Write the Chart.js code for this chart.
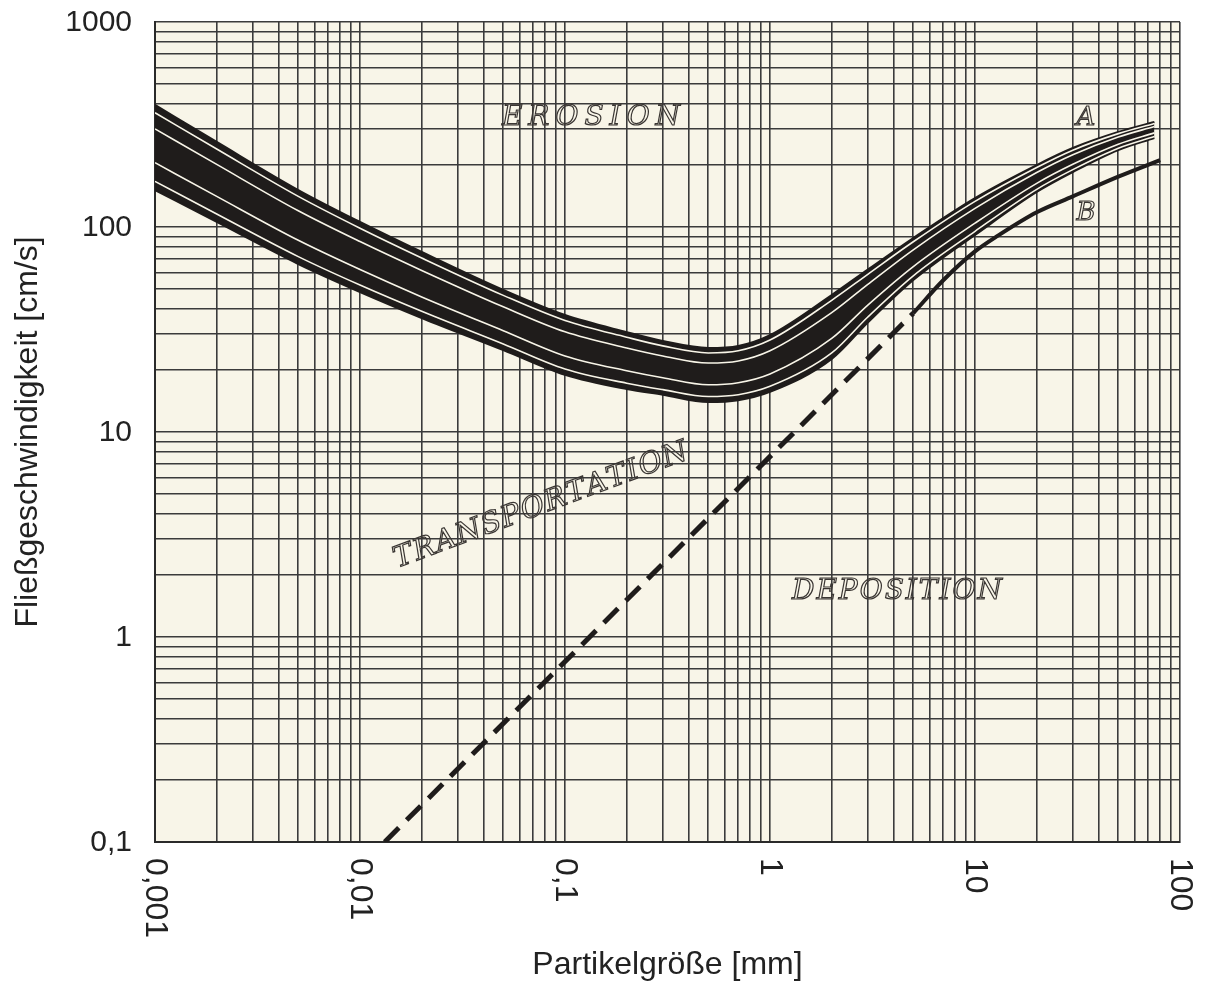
<!DOCTYPE html>
<html>
<head>
<meta charset="utf-8">
<script src="https://cdn.jsdelivr.net/npm/chart.js@4/dist/chart.umd.min.js"></script>
<style>
  body { margin: 0; background: #ffffff; }
  #box { width: 1208px; height: 982px; }
</style>
</head>
<body>
<div id="box"><canvas id="grafico"></canvas></div>
<script>
// Korngröße in mm (x) und Fließgeschwindigkeit in cm/s (y)
const korngroesse = [0.001, 0.002, 0.005, 0.01, 0.02, 0.05, 0.1, 0.2, 0.3, 0.5, 0.7, 1, 2, 3, 5, 10, 20, 30, 50, 75];
const erosionOben = [394, 260, 151.5, 105.8, 75.5, 49.3, 37.2, 30.7, 27.8, 25.7, 26.3, 29.7, 46.6, 62.0, 88.4, 138.5, 200.6, 242.8, 290.6, 325.2];
const erosionLinie1 = [361, 240, 141, 98.6, 70.6, 46.4, 35.0, 29.0, 26.3, 24.3, 24.9, 28.1, 43.9, 58.8, 84.7, 133.4, 195.2, 237.1, 285.4, 320.0];
const erosionLinie2 = [301, 202, 120, 84.9, 61.4, 40.8, 30.8, 25.7, 23.5, 21.7, 22.2, 24.9, 38.2, 52.5, 77.4, 123.3, 184.3, 225.2, 274.7, 309.3];
const erosionLinie3 = [206, 141, 86.1, 62.0, 45.6, 31.2, 23.5, 19.9, 18.4, 17.0, 17.4, 19.2, 28.6, 41.6, 64.1, 104.4, 163.3, 202.2, 253.3, 287.8];
const erosionLinie4 = [167, 115.7, 71.7, 52.1, 38.8, 26.9, 20.3, 17.3, 16.1, 14.9, 15.2, 16.7, 24.3, 36.4, 57.8, 95.3, 152.7, 190.5, 242.3, 276.6];
const erosionUnten = [151.5, 105.8, 66.0, 48.2, 36.0, 25.1, 19.0, 16.2, 15.2, 14.0, 14.3, 15.7, 22.7, 34.2, 55.1, 91.4, 148.2, 185.5, 237.5, 271.8];

// Sedimentationskurve (gestrichelt) und Kurve B
const depositionX = [0.0132, 5];
const depositionV = [0.1, 38];
const kurveBX = [5, 7, 10, 13, 20, 30, 50, 80];
const kurveBV = [38, 55, 76, 91, 118, 141, 176, 212];

// Achsenbeschriftungen
const xTickWerte = [0.001, 0.01, 0.1, 1, 10, 100];
const xTickTexte = ['0,001', '0,01', '0,1', '1', '10', '100'];
const yTickWerte = [0.1, 1, 10, 100, 1000];
const yTickTexte = ['0,1', '1', '10', '100', '1000'];

const papier = '#f8f5e8';
const tinte = '#1f1c1b';
const schrift = '"Liberation Sans", Arial, sans-serif';

function punkte(xs, ys) {
    return xs.map((x, i) => ({ x: x, y: ys[i] }));
}

// Gitterlinien 1..9 pro Dekade
function logTicks(min, max) {
    const ticks = [];
    for (let e = Math.round(Math.log10(min)); e < Math.round(Math.log10(max)); e++) {
        for (let k = 1; k < 10; k++) {
            ticks.push({ value: Number((k * Math.pow(10, e)).toPrecision(6)) });
        }
    }
    ticks.push({ value: max });
    return ticks;
}

function linie(daten, farbe, breite, reihenfolge) {
    return {
        data: daten,
        borderColor: farbe,
        borderWidth: breite,
        pointRadius: 0,
        fill: false,
        cubicInterpolationMode: 'monotone',
        order: reihenfolge
    };
}

const papierPlugin = {
    id: 'papier',
    beforeDraw(chart) {
        const { ctx, chartArea } = chart;
        ctx.save();
        ctx.fillStyle = papier;
        ctx.fillRect(chartArea.left, chartArea.top, chartArea.right - chartArea.left, chartArea.bottom - chartArea.top);
        ctx.restore();
    }
};

function gesperrt(ctx, text, x, y, abstand) {
    // Text mit Buchstabenabstand, zentriert um x
    let breite = 0;
    const b = [];
    for (const ch of text) { const w = ctx.measureText(ch).width; b.push(w); breite += w; }
    breite += abstand * (text.length - 1);
    let px = x - breite / 2;
    let i = 0;
    for (const ch of text) {
        ctx.strokeText(ch, px, y);
        px += b[i++] + abstand;
    }
}

const beschriftungPlugin = {
    id: 'beschriftung',
    afterDraw(chart) {
        const ctx = chart.ctx;
        const xs = chart.scales.x;
        const ys = chart.scales.y;
        const unten = chart.chartArea.bottom;
        const links = chart.chartArea.left;

        ctx.save();
        ctx.fillStyle = '#222';

        // y-Achsenbeschriftung
        ctx.font = '30px ' + schrift;
        ctx.textAlign = 'right';
        ctx.textBaseline = 'middle';
        yTickWerte.forEach((w, i) => {
            ctx.fillText(yTickTexte[i], links - 23, ys.getPixelForValue(w) + 1);
        });

        // x-Achsenbeschriftung, im Uhrzeigersinn gedreht
        ctx.font = '32px ' + schrift;
        ctx.textAlign = 'left';
        xTickWerte.forEach((w, i) => {
            ctx.save();
            ctx.translate(xs.getPixelForValue(w), unten + 16);
            ctx.rotate(Math.PI / 2);
            ctx.fillText(xTickTexte[i], 0, 0);
            ctx.restore();
        });
        ctx.restore();

        // Bereichsnamen im Diagramm
        ctx.save();
        ctx.strokeStyle = '#3a3633';
        ctx.lineWidth = 1.2;
        ctx.textAlign = 'left';
        ctx.textBaseline = 'middle';
        ctx.font = 'italic 28px "DejaVu Serif", serif';
        gesperrt(ctx, 'EROSION', 591, 118, 6);
        gesperrt(ctx, 'DEPOSITION', 897, 592, 2);
        ctx.font = 'italic 26px "DejaVu Serif", serif';
        gesperrt(ctx, 'A', 1086, 118, 0);
        gesperrt(ctx, 'B', 1086, 213, 0);
        ctx.save();
        ctx.translate(541, 506);
        ctx.rotate(-20.5 * Math.PI / 180);
        ctx.font = 'italic 29px "DejaVu Serif", serif';
        gesperrt(ctx, 'TRANSPORTATION', 0, 0, 1.5);
        ctx.restore();
        ctx.restore();
    }
};

const ctx = document.getElementById('grafico').getContext('2d');
new Chart(ctx, {
    type: 'line',
    data: {
        datasets: [
            Object.assign(linie(punkte(korngroesse, erosionOben), tinte, 2, 10), { fill: '+1', backgroundColor: tinte }),
            linie(punkte(korngroesse, erosionUnten), tinte, 2, 9),
            linie(punkte(korngroesse, erosionLinie1), papier, 1.6, 2),
            linie(punkte(korngroesse, erosionLinie2), papier, 1.6, 2),
            linie(punkte(korngroesse, erosionLinie3), papier, 1.6, 2),
            linie(punkte(korngroesse, erosionLinie4), papier, 1.6, 2),
            Object.assign(linie(punkte(depositionX, depositionV), tinte, 5, 1), { borderDash: [20, 11] }),
            linie(punkte(kurveBX, kurveBV), tinte, 4, 1)
        ]
    },
    options: {
        responsive: true,
        maintainAspectRatio: false,
        animation: false,
        layout: { padding: { top: 22, right: 28, left: 0, bottom: 0 } },
        plugins: {
            legend: { display: false },
            tooltip: { enabled: false }
        },
        scales: {
            x: {
                type: 'logarithmic',
                min: 0.001,
                max: 100,
                afterBuildTicks: s => { s.ticks = logTicks(0.001, 100); },
                afterFit: s => { s.height = 140; },
                ticks: { display: false, autoSkip: false },
                grid: { color: '#3b3b3b', lineWidth: 1.6, drawTicks: false },
                border: { color: '#2a2a2a', width: 2 },
                title: {
                    display: true,
                    text: 'Partikelgröße [mm]',
                    color: '#222',
                    font: { family: schrift, size: 32, lineHeight: 1 },
                    padding: { top: 0, bottom: 1 }
                }
            },
            y: {
                type: 'logarithmic',
                min: 0.1,
                max: 1000,
                afterBuildTicks: s => { s.ticks = logTicks(0.1, 1000); },
                afterFit: s => { s.width = 155; },
                ticks: { display: false, autoSkip: false },
                grid: { color: '#3b3b3b', lineWidth: 1.6, drawTicks: false },
                border: { color: '#2a2a2a', width: 2 },
                title: {
                    display: true,
                    text: 'Fließgeschwindigkeit [cm/s]',
                    color: '#222',
                    font: { family: schrift, size: 32, lineHeight: 1 },
                    padding: { top: 12, bottom: 0 }
                }
            }
        }
    },
    plugins: [papierPlugin, beschriftungPlugin]
});
</script>
</body>
</html>
